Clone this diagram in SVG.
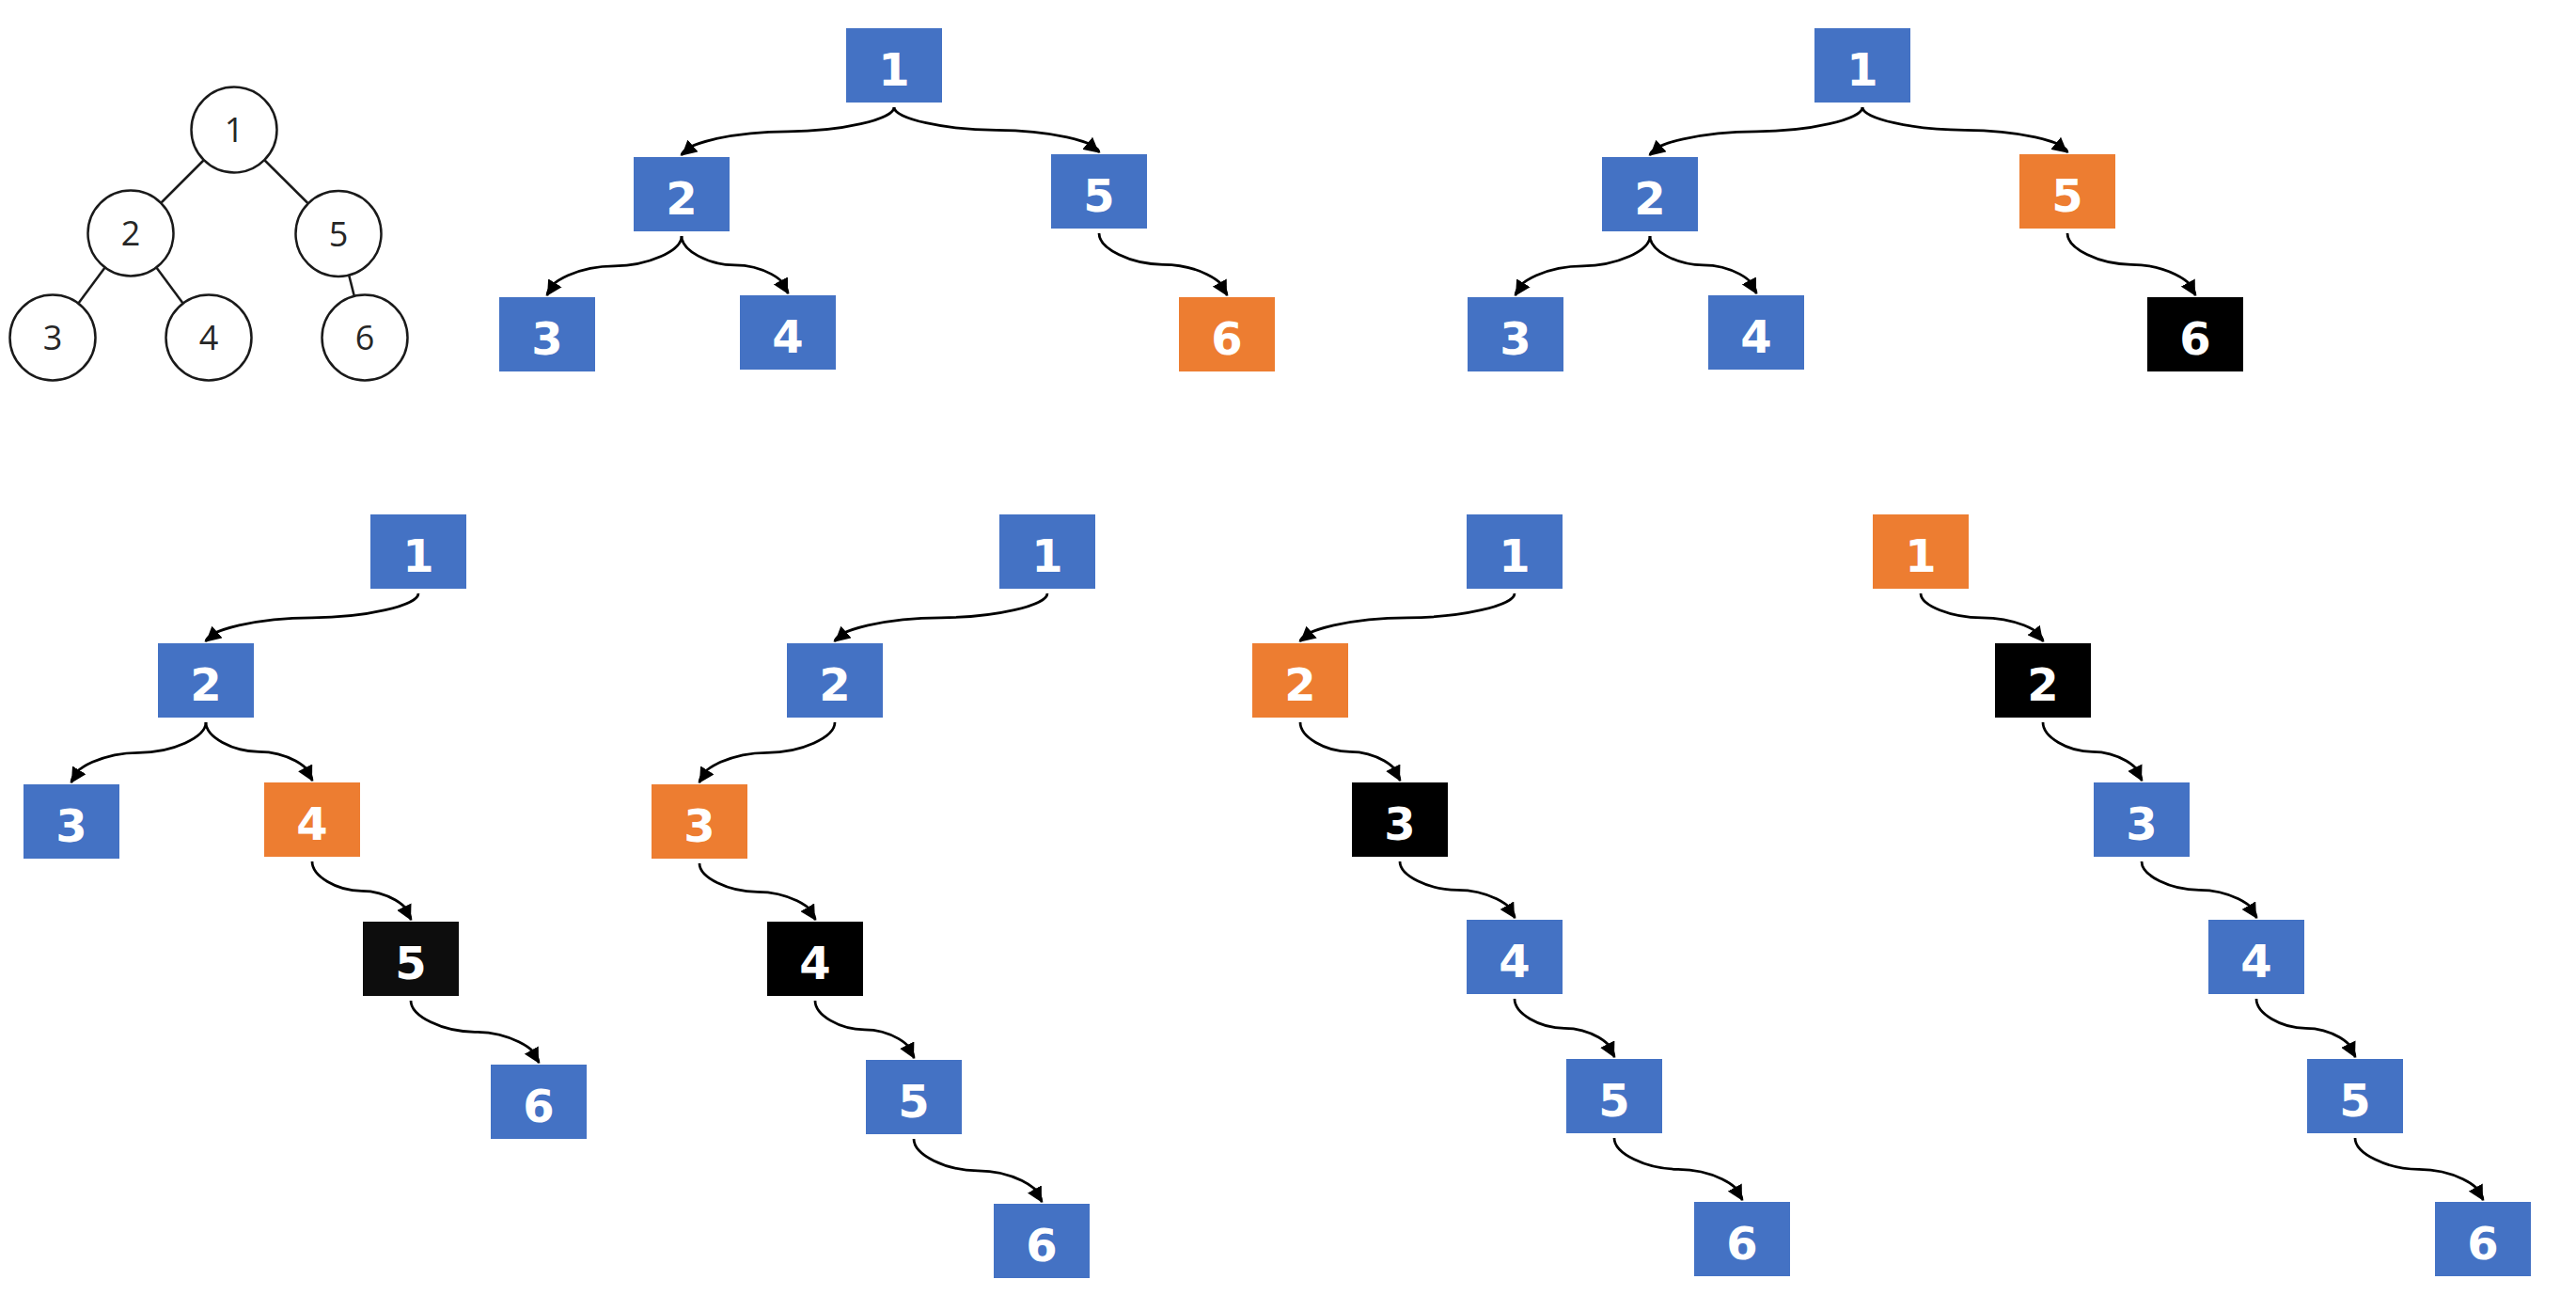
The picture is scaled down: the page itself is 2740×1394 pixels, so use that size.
<svg xmlns="http://www.w3.org/2000/svg" width="2740" height="1394" viewBox="0 0 2740 1394">
<style>
.bl{fill:#4472C4}.or{fill:#ED7D31}.bk{fill:#000000}.bk2{fill:#0D0D0D}
.t{fill:#FFFFFF;font-family:"DejaVu Sans","Liberation Sans",sans-serif;font-weight:bold;font-size:48px;text-anchor:middle}
.c{fill:#FFFFFF;stroke:#1A1A1A;stroke-width:2.5}
.ct{fill:#262626;font-family:"Open Sans","Noto Sans",sans-serif;font-size:36px;text-anchor:middle}
.ln{stroke:#1A1A1A;stroke-width:2.5;fill:none}
.e{fill:none;stroke:#000;stroke-width:2.75}
.ah{fill:none;stroke:none;marker-end:url(#arr)}
</style>
<defs>
<marker id="arr" markerUnits="userSpaceOnUse" viewBox="0 0 16 17" markerWidth="16" markerHeight="17" refX="16" refY="8.5" orient="auto">
<path d="M0,0 L16,8.5 L0,17 z" fill="#000"/>
</marker>
</defs>
<rect width="2740" height="1394" fill="#FFFFFF"/>

<!-- circle tree -->
<g id="circle-edges">
<line class="ln" x1="216.5" y1="170.5" x2="171.5" y2="215.5"/>
<line class="ln" x1="281.6" y1="170.5" x2="327.4" y2="216"/>
<line class="ln" x1="111.4" y1="284.8" x2="83.6" y2="322.2"/>
<line class="ln" x1="166.6" y1="284.8" x2="194.4" y2="322.2"/>
<line class="ln" x1="371.3" y1="293.1" x2="376.7" y2="314.4"/>
</g>
<g id="n1"><circle class="c" cx="249" cy="138" r="45.5"/><text class="ct" x="249" y="151">1</text></g>
<g id="n2"><circle class="c" cx="139" cy="248" r="45.5"/><text class="ct" x="139" y="261">2</text></g>
<g id="n5"><circle class="c" cx="360" cy="248.5" r="45.5"/><text class="ct" x="360" y="261.5">5</text></g>
<g id="n3"><circle class="c" cx="56" cy="359" r="45.5"/><text class="ct" x="56" y="372">3</text></g>
<g id="n4"><circle class="c" cx="222" cy="359" r="45.5"/><text class="ct" x="222" y="372">4</text></g>
<g id="n6"><circle class="c" cx="388" cy="359" r="45.5"/><text class="ct" x="388" y="372">6</text></g>

<!-- connectors -->
<g id="connectors">
<path class="e" d="M 951 114 C 951 126.9, 894.5 139.75, 838 139.75 C 781.5 139.75, 725 152.6, 725 165.5"/>
<path class="ah" d="M 737.05 154.97 L 725 165.5"/>
<path class="e" d="M 951 114 C 951 126.1, 1005.5 138.25, 1060 138.25 C 1114.5 138.25, 1169 150.4, 1169 162.5"/>
<path class="ah" d="M 1156.6 152.25 L 1169 162.5"/>
<path class="e" d="M 725 251 C 725 266.9, 689.25 282.75, 653.5 282.75 C 617.75 282.75, 582 298.6, 582 314.5"/>
<path class="ah" d="M 590.4 300.9 L 582 314.5"/>
<path class="e" d="M 725 251 C 725 266.4, 753.25 281.75, 781.5 281.75 C 809.75 281.75, 838 297.1, 838 312.5"/>
<path class="ah" d="M 830.5 298.45 L 838 312.5"/>
<path class="e" d="M 1169 248 C 1169 264.6, 1203 281.25, 1237 281.25 C 1271 281.25, 1305 297.9, 1305 314.5"/>
<path class="ah" d="M 1297.25 300.44 L 1305 314.5"/>

<path class="e" d="M 1981 114 C 1981 126.9, 1924.5 139.75, 1868 139.75 C 1811.5 139.75, 1755 152.6, 1755 165.5"/>
<path class="ah" d="M 1767.05 154.97 L 1755 165.5"/>
<path class="e" d="M 1981 114 C 1981 126.1, 2035.5 138.25, 2090 138.25 C 2144.5 138.25, 2199 150.4, 2199 162.5"/>
<path class="ah" d="M 2186.6 152.25 L 2199 162.5"/>
<path class="e" d="M 1755 251 C 1755 266.9, 1719.25 282.75, 1683.5 282.75 C 1647.75 282.75, 1612 298.6, 1612 314.5"/>
<path class="ah" d="M 1620.4 300.9 L 1612 314.5"/>
<path class="e" d="M 1755 251 C 1755 266.4, 1783.25 281.75, 1811.5 281.75 C 1839.75 281.75, 1868 297.1, 1868 312.5"/>
<path class="ah" d="M 1860.5 298.45 L 1868 312.5"/>
<path class="e" d="M 2199 248 C 2199 264.6, 2233 281.25, 2267 281.25 C 2301 281.25, 2335 297.9, 2335 314.5"/>
<path class="ah" d="M 2327.25 300.44 L 2335 314.5"/>

<path class="e" d="M 445 631 C 445 643.9, 388.5 656.75, 332 656.75 C 275.5 656.75, 219 669.6, 219 682.5"/>
<path class="ah" d="M 231.05 671.97 L 219 682.5"/>
<path class="e" d="M 219 768 C 219 784.1, 183.25 800.25, 147.5 800.25 C 111.75 800.25, 76 816.4, 76 832.5"/>
<path class="ah" d="M 84.4 818.6 L 76 832.5"/>
<path class="e" d="M 219 768 C 219 783.6, 247.25 799.25, 275.5 799.25 C 303.75 799.25, 332 814.9, 332 830.5"/>
<path class="ah" d="M 324.7 816.4 L 332 830.5"/>
<path class="e" d="M 332 916 C 332 931.6, 358.25 947.25, 384.5 947.25 C 410.75 947.25, 437 962.9, 437 978.5"/>
<path class="ah" d="M 429.8 964 L 437 978.5"/>
<path class="e" d="M 437 1064 C 437 1080.6, 471 1097.25, 505 1097.25 C 539 1097.25, 573 1113.9, 573 1130.5"/>
<path class="ah" d="M 565.25 1116.44 L 573 1130.5"/>

<path class="e" d="M 1114 631 C 1114 643.9, 1057.5 656.75, 1001 656.75 C 944.5 656.75, 888 669.6, 888 682.5"/>
<path class="ah" d="M 900.05 671.97 L 888 682.5"/>
<path class="e" d="M 888 768 C 888 784.1, 852 800.25, 816 800.25 C 780 800.25, 744 816.4, 744 832.5"/>
<path class="ah" d="M 752.5 818.6 L 744 832.5"/>
<path class="e" d="M 744 918 C 744 933.1, 774.75 948.25, 805.5 948.25 C 836.25 948.25, 867 963.4, 867 978.5"/>
<path class="ah" d="M 858.8 964.7 L 867 978.5"/>
<path class="e" d="M 867 1064 C 867 1079.4, 893.25 1094.75, 919.5 1094.75 C 945.75 1094.75, 972 1110.1, 972 1125.5"/>
<path class="ah" d="M 964.8 1111.24 L 972 1125.5"/>
<path class="e" d="M 972 1211 C 972 1227.9, 1006 1244.75, 1040 1244.75 C 1074 1244.75, 1108 1261.6, 1108 1278.5"/>
<path class="ah" d="M 1100.25 1264.23 L 1108 1278.5"/>

<path class="e" d="M 1611 631 C 1611 643.9, 1554 656.75, 1497 656.75 C 1440 656.75, 1383 669.6, 1383 682.5"/>
<path class="ah" d="M 1395.16 671.97 L 1383 682.5"/>
<path class="e" d="M 1383 768 C 1383 783.6, 1409.5 799.25, 1436 799.25 C 1462.5 799.25, 1489 814.9, 1489 830.5"/>
<path class="ah" d="M 1481.7 816 L 1489 830.5"/>
<path class="e" d="M 1489 916 C 1489 931.1, 1519.5 946.25, 1550 946.25 C 1580.5 946.25, 1611 961.4, 1611 976.5"/>
<path class="ah" d="M 1602.9 962.7 L 1611 976.5"/>
<path class="e" d="M 1611 1062 C 1611 1077.6, 1637.5 1093.25, 1664 1093.25 C 1690.5 1093.25, 1717 1108.9, 1717 1124.5"/>
<path class="ah" d="M 1709.7 1110 L 1717 1124.5"/>
<path class="e" d="M 1717 1210 C 1717 1226.6, 1751 1243.25, 1785 1243.25 C 1819 1243.25, 1853 1259.9, 1853 1276.5"/>
<path class="ah" d="M 1845.25 1262.44 L 1853 1276.5"/>

<path class="e" d="M 2043 631 C 2043 643.9, 2075.5 656.75, 2108 656.75 C 2140.5 656.75, 2173 669.6, 2173 682.5"/>
<path class="ah" d="M 2163 669.87 L 2173 682.5"/>
<path class="e" d="M 2173 768 C 2173 783.6, 2199.25 799.25, 2225.5 799.25 C 2251.75 799.25, 2278 814.9, 2278 830.5"/>
<path class="ah" d="M 2270.8 816 L 2278 830.5"/>
<path class="e" d="M 2278 916 C 2278 931.1, 2308.5 946.25, 2339 946.25 C 2369.5 946.25, 2400 961.4, 2400 976.5"/>
<path class="ah" d="M 2391.9 962.7 L 2400 976.5"/>
<path class="e" d="M 2400 1062 C 2400 1077.6, 2426.25 1093.25, 2452.5 1093.25 C 2478.75 1093.25, 2505 1108.9, 2505 1124.5"/>
<path class="ah" d="M 2497.8 1110 L 2505 1124.5"/>
<path class="e" d="M 2505 1210 C 2505 1226.6, 2539 1243.25, 2573 1243.25 C 2607 1243.25, 2641 1259.9, 2641 1276.5"/>
<path class="ah" d="M 2633.25 1262.44 L 2641 1276.5"/>
</g>

<!-- tree A -->
<g id="a1"><rect class="bl" x="900" y="30" width="102" height="79"/><text class="t" x="951" y="91">1</text></g>
<g id="a2"><rect class="bl" x="674" y="167" width="102" height="79"/><text class="t" x="725" y="228">2</text></g>
<g id="a5"><rect class="bl" x="1118" y="164" width="102" height="79"/><text class="t" x="1169" y="225">5</text></g>
<g id="a3"><rect class="bl" x="531" y="316" width="102" height="79"/><text class="t" x="582" y="377">3</text></g>
<g id="a4"><rect class="bl" x="787" y="314" width="102" height="79"/><text class="t" x="838" y="375">4</text></g>
<g id="a6"><rect class="or" x="1254" y="316" width="102" height="79"/><text class="t" x="1305" y="377">6</text></g>

<!-- tree B -->
<g id="b1"><rect class="bl" x="1930" y="30" width="102" height="79"/><text class="t" x="1981" y="91">1</text></g>
<g id="b2"><rect class="bl" x="1704" y="167" width="102" height="79"/><text class="t" x="1755" y="228">2</text></g>
<g id="b5"><rect class="or" x="2148" y="164" width="102" height="79"/><text class="t" x="2199" y="225">5</text></g>
<g id="b3"><rect class="bl" x="1561" y="316" width="102" height="79"/><text class="t" x="1612" y="377">3</text></g>
<g id="b4"><rect class="bl" x="1817" y="314" width="102" height="79"/><text class="t" x="1868" y="375">4</text></g>
<g id="b6"><rect class="bk" x="2284" y="316" width="102" height="79"/><text class="t" x="2335" y="377">6</text></g>

<!-- tree C -->
<g id="c1"><rect class="bl" x="394" y="547" width="102" height="79"/><text class="t" x="445" y="608">1</text></g>
<g id="c2"><rect class="bl" x="168" y="684" width="102" height="79"/><text class="t" x="219" y="745">2</text></g>
<g id="c3"><rect class="bl" x="25" y="834" width="102" height="79"/><text class="t" x="76" y="895">3</text></g>
<g id="c4"><rect class="or" x="281" y="832" width="102" height="79"/><text class="t" x="332" y="893">4</text></g>
<g id="c5"><rect class="bk2" x="386" y="980" width="102" height="79"/><text class="t" x="437" y="1041">5</text></g>
<g id="c6"><rect class="bl" x="522" y="1132" width="102" height="79"/><text class="t" x="573" y="1193">6</text></g>

<!-- tree D -->
<g id="d1"><rect class="bl" x="1063" y="547" width="102" height="79"/><text class="t" x="1114" y="608">1</text></g>
<g id="d2"><rect class="bl" x="837" y="684" width="102" height="79"/><text class="t" x="888" y="745">2</text></g>
<g id="d3"><rect class="or" x="693" y="834" width="102" height="79"/><text class="t" x="744" y="895">3</text></g>
<g id="d4"><rect class="bk" x="816" y="980" width="102" height="79"/><text class="t" x="867" y="1041">4</text></g>
<g id="d5"><rect class="bl" x="921" y="1127" width="102" height="79"/><text class="t" x="972" y="1188">5</text></g>
<g id="d6"><rect class="bl" x="1057" y="1280" width="102" height="79"/><text class="t" x="1108" y="1341">6</text></g>

<!-- tree E -->
<g id="e1"><rect class="bl" x="1560" y="547" width="102" height="79"/><text class="t" x="1611" y="608">1</text></g>
<g id="e2"><rect class="or" x="1332" y="684" width="102" height="79"/><text class="t" x="1383" y="745">2</text></g>
<g id="e3"><rect class="bk" x="1438" y="832" width="102" height="79"/><text class="t" x="1489" y="893">3</text></g>
<g id="e4"><rect class="bl" x="1560" y="978" width="102" height="79"/><text class="t" x="1611" y="1039">4</text></g>
<g id="e5"><rect class="bl" x="1666" y="1126" width="102" height="79"/><text class="t" x="1717" y="1187">5</text></g>
<g id="e6"><rect class="bl" x="1802" y="1278" width="102" height="79"/><text class="t" x="1853" y="1339">6</text></g>

<!-- tree F -->
<g id="f1"><rect class="or" x="1992" y="547" width="102" height="79"/><text class="t" x="2043" y="608">1</text></g>
<g id="f2"><rect class="bk" x="2122" y="684" width="102" height="79"/><text class="t" x="2173" y="745">2</text></g>
<g id="f3"><rect class="bl" x="2227" y="832" width="102" height="79"/><text class="t" x="2278" y="893">3</text></g>
<g id="f4"><rect class="bl" x="2349" y="978" width="102" height="79"/><text class="t" x="2400" y="1039">4</text></g>
<g id="f5"><rect class="bl" x="2454" y="1126" width="102" height="79"/><text class="t" x="2505" y="1187">5</text></g>
<g id="f6"><rect class="bl" x="2590" y="1278" width="102" height="79"/><text class="t" x="2641" y="1339">6</text></g>
</svg>
